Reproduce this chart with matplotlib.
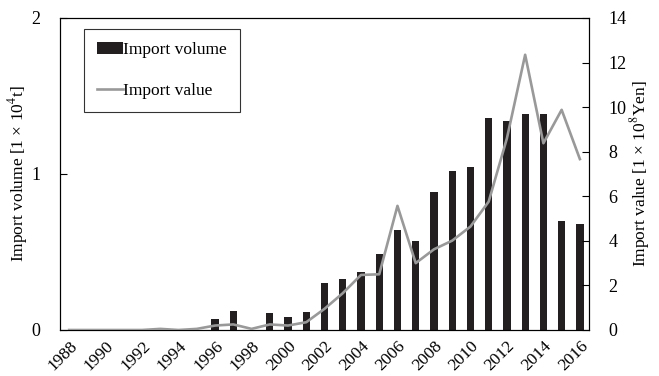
import matplotlib.pyplot as plt
import numpy as np

# import statistics, 1988-2016
years = list(range(1988, 2017))
volume = [0, 0, 0, 0, 0, 0, 0, 0, 0.069, 0.124, 0, 0.107, 0.081, 0.117, 0.30,
          0.325, 0.374, 0.49, 0.639, 0.57, 0.883, 1.017, 1.047, 1.359, 1.342,
          1.383, 1.383, 0.699, 0.679]
value = [0, 0, 0, 0, 0, 0.05, 0, 0.05, 0.2, 0.25, 0.05, 0.25, 0.2, 0.35, 0.95,
         1.65, 2.47, 2.5, 5.57, 3.0, 3.62, 4.01, 4.64, 5.76, 8.6,
         12.35, 8.38, 9.88, 7.67]
tick_years = [str(y) for y in years[::2]]

plt.rcParams['font.family'] = ['Liberation Serif', 'DejaVu Serif']
plt.rcParams['mathtext.fontset'] = 'stix'

fig = plt.figure(figsize=(6.59, 3.76), dpi=100)
ax = fig.add_axes([60 / 659, 1 - 330 / 376, 529 / 659, 312 / 376])
ax2 = ax.twinx()

x = np.arange(len(years))
bars = ax.bar(x, volume, width=0.4, color='#231f20', label='Import volume', zorder=2)
line, = ax2.plot(x, value, color='#999999', lw=1.9, label='Import value', zorder=3)

ax.set_xlim(-0.5, len(years) - 0.5)
ax.set_ylim(0, 2)
ax2.set_ylim(0, 14)
ax.set_yticks([0, 1, 2])
ax2.set_yticks(range(0, 15, 2))
ax.set_xticks(x[::2])
ax.set_xticklabels(tick_years, rotation=45, ha='right', rotation_mode='anchor')

ax.tick_params(axis='x', length=0, labelsize=12.5, pad=6)
ax.tick_params(axis='y', direction='in', length=5, labelsize=13, pad=14)
ax2.tick_params(axis='y', direction='in', length=5, labelsize=13, pad=14)

ax.set_ylabel('Import volume [1 × 10$^{4}$t]', fontsize=12.5, va='center')
ax2.set_ylabel('Import value [1 × 10$^{8}$Yen]', fontsize=12.5, va='center')
ax.yaxis.set_label_coords(-0.079, 0.5)
ax2.yaxis.set_label_coords(1.097, 0.5)

leg = ax2.legend([bars, line], ['Import volume', 'Import value'],
                 loc='upper left', bbox_to_anchor=(0.045, 0.965), borderaxespad=0,
                 fontsize=12.5, frameon=True, fancybox=False, edgecolor='black',
                 handlelength=1.5, handletextpad=0.0, labelspacing=1.45,
                 borderpad=0.75)
leg.get_frame().set_linewidth(0.8)

fig.savefig('out.png', dpi=100)
